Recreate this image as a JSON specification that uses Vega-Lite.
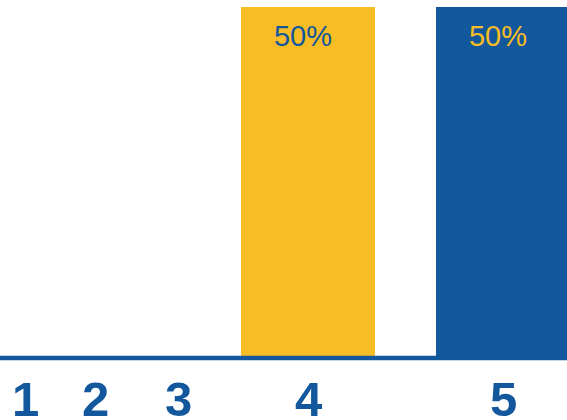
{
  "$schema": "https://vega.github.io/schema/vega-lite/v6.json",
  "width": 567,
  "height": 351,
  "autosize": {"type": "none"},
  "padding": {"top": 7, "bottom": 62, "left": 0, "right": 0},
  "config": {"view": {"stroke": null}},
  "data": {"values": [
    {"cat": 4, "value": 0.5},
    {"cat": 5, "value": 0.5}
  ]},
  "layer": [
    {
      "mark": {"type": "bar", "width": 134},
      "encoding": {
        "x": {
          "field": "cat", "type": "quantitative",
          "scale": {"type": "linear", "domain": [1, 2, 3, 4, 5], "range": [25, 95, 178, 308, 503], "zero": false, "nice": false, "padding": 0},
          "axis": {
            "values": [1, 2, 3, 4, 5], "format": "d", "title": null,
            "ticks": false, "tickSize": 0, "domain": false, "grid": false,
            "labelFont": "Liberation Sans", "labelFontWeight": "bold", "labelFontSize": 49,
            "labelColor": "#13579D", "labelPadding": 18, "labelOverlap": false, "labelFlush": false
          }
        },
        "y": {"field": "value", "type": "quantitative", "scale": {"domain": [0, 0.5], "nice": false}, "axis": null},
        "color": {"field": "cat", "type": "nominal", "scale": {"domain": [4, 5], "range": ["#F8BD24", "#13579D"]}, "legend": null}
      }
    },
    {
      "mark": {"type": "text", "font": "Liberation Sans", "fontSize": 29, "baseline": "alphabetic", "align": "center", "dy": 39, "dx": -5},
      "encoding": {
        "x": {"field": "cat", "type": "quantitative"},
        "y": {"field": "value", "type": "quantitative"},
        "text": {"field": "value", "type": "quantitative", "format": ".0%"},
        "color": {"field": "cat", "type": "nominal", "scale": {"domain": [4, 5], "range": ["#13579D", "#F8BD24"]}, "legend": null}
      }
    },
    {
      "data": {"values": [{"base": 0}]},
      "mark": {"type": "rule", "color": "#13579D", "strokeWidth": 4.5, "strokeCap": "round"},
      "encoding": {"y": {"field": "base", "type": "quantitative"}}
    }
  ],
  "resolve": {"scale": {"color": "independent"}}
}
